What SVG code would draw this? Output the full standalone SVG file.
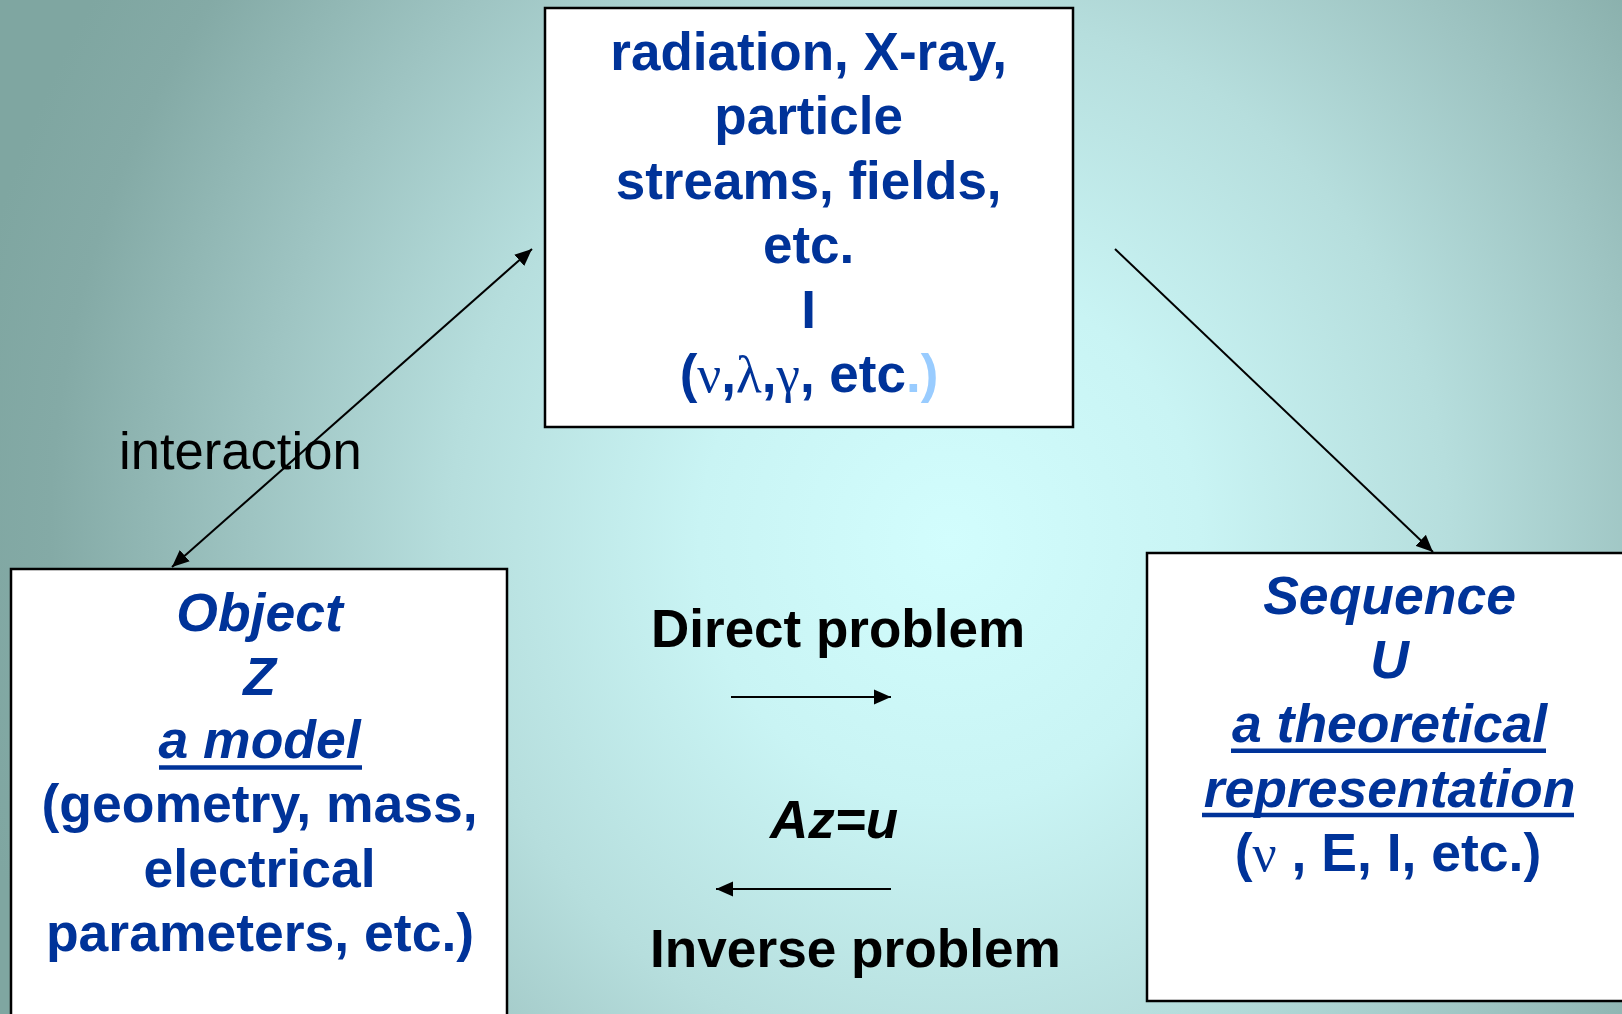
<svg xmlns="http://www.w3.org/2000/svg" width="1622" height="1014" viewBox="0 0 1622 1014">
  <defs>
    <radialGradient id="bg" gradientUnits="userSpaceOnUse" cx="950" cy="540" r="1000" gradientTransform="translate(950 540) scale(1 1.05) translate(-950 -540)">
      <stop offset="0" stop-color="#d2fdfd"/>
      <stop offset="0.25" stop-color="#c9f4f4"/>
      <stop offset="0.5" stop-color="#b6dedd"/>
      <stop offset="0.7" stop-color="#9ec4c2"/>
      <stop offset="0.9" stop-color="#84aaa6"/>
      <stop offset="1" stop-color="#7fa6a1"/>
    </radialGradient>
    <marker id="ah" markerUnits="userSpaceOnUse" markerWidth="18" markerHeight="16" refX="17" refY="7.5" orient="auto-start-reverse" viewBox="0 0 18 15">
      <path d="M0,0 L17,7.5 L0,15 z" fill="#000"/>
    </marker>
  </defs>
  <style>
    .box { fill: #ffffff; stroke: #000000; stroke-width: 2.5; }
    .bt { font-family: "Liberation Sans", Arial, sans-serif; font-weight: bold; fill: #003399; text-anchor: middle; }
    .it { font-style: italic; }
    .gr { font-family: "Liberation Serif", "Times New Roman", serif; font-weight: normal; }
    .lb { fill: #99ccff; }
    .ul { stroke: #003399; stroke-width: 4.5; }
    .bk { font-family: "Liberation Sans", Arial, sans-serif; fill: #000000; }
    .conn { stroke: #000000; stroke-width: 2; fill: none; }
  </style>
  <rect x="0" y="0" width="1622" height="1014" fill="url(#bg)"/>

  <g id="node-radiation">
    <rect class="box" x="545" y="8" width="528" height="419"/>
    <text class="bt" font-size="53">
      <tspan x="816" y="69.5">radiation, X-ray,</tspan>
      <tspan x="816" y="134">particle</tspan>
      <tspan x="816" y="198.5">streams, fields,</tspan>
      <tspan x="816" y="263">etc.</tspan>
      <tspan x="816" y="327.5">I</tspan>
      <tspan x="809" y="392">(<tspan class="gr">ν</tspan>,<tspan class="gr">λ</tspan>,<tspan class="gr">γ</tspan>, etc<tspan class="lb">.)</tspan></tspan>
    </text>
  </g>

  <g id="node-object">
    <rect class="box" x="11" y="569" width="496" height="470"/>
    <text class="bt" font-size="53.5">
      <tspan class="it" x="267" y="631">Object</tspan>
      <tspan class="it" x="267" y="694.5">Z</tspan>
      <tspan class="it" x="267" y="758">a model</tspan>
      <tspan x="267" y="822">(geometry, mass,</tspan>
      <tspan x="267" y="886.5">electrical</tspan>
      <tspan x="260" y="950.5">parameters, etc.)</tspan>
    </text>
    <line class="ul" x1="159" y1="767.5" x2="362" y2="767.5"/>
  </g>

  <g id="node-sequence">
    <rect class="box" x="1147" y="553" width="500" height="448"/>
    <text class="bt" font-size="53.5">
      <tspan class="it" x="1397" y="614">Sequence</tspan>
      <tspan class="it" x="1397" y="678">U</tspan>
      <tspan class="it" x="1397" y="742">a theoretical</tspan>
      <tspan class="it" x="1397" y="807">representation</tspan>
      <tspan x="1388" y="871">(<tspan class="gr">ν</tspan> , E, I, etc.)</tspan>
    </text>
    <line class="ul" x1="1231" y1="750.8" x2="1546" y2="750.8"/>
    <line class="ul" x1="1202" y1="815" x2="1574" y2="815"/>
  </g>

  <g id="labels">
    <text class="bk" font-size="52.6" x="119" y="469">interaction</text>
    <text class="bk" font-size="53" font-weight="bold" x="651" y="647">Direct problem</text>
    <text class="bk" font-size="53" font-weight="bold" font-style="italic" x="770" y="838">Az=u</text>
    <text class="bk" font-size="53.2" font-weight="bold" x="650" y="967">Inverse problem</text>
  </g>

  <g id="connectors">
    <line class="conn" x1="172" y1="567" x2="532" y2="249" marker-start="url(#ah)" marker-end="url(#ah)"/>
    <line class="conn" x1="1115" y1="249" x2="1433" y2="552" marker-end="url(#ah)"/>
    <line class="conn" x1="731" y1="697" x2="891" y2="697" marker-end="url(#ah)"/>
    <line class="conn" x1="891" y1="889" x2="716" y2="889" marker-end="url(#ah)"/>
  </g>
</svg>
